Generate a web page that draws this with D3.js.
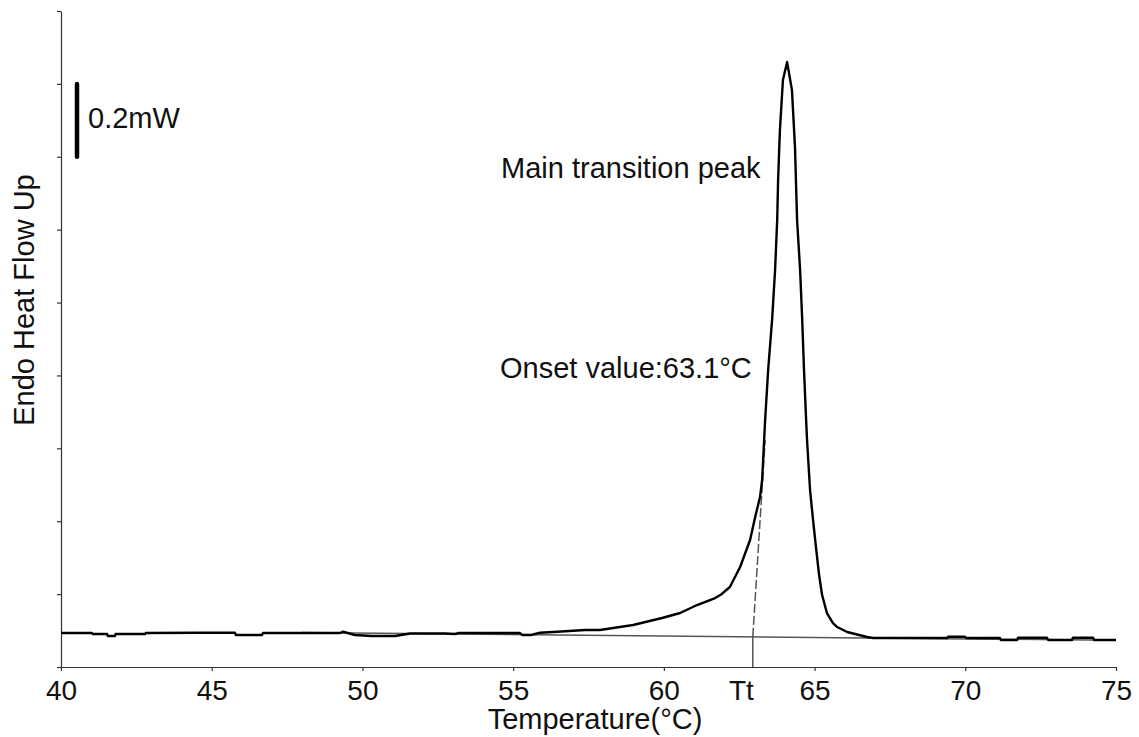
<!DOCTYPE html>
<html lang="en">
<head>
	<meta charset="UTF-8">
	<title>DSC - Main transition peak</title>
	<script src="https://d3js.org/d3.v7.min.js"></script>
	<style>
		body {
			margin: 0;
			background-color: #ffffff;
		}
		text {
			font-family: "Liberation Sans", Arial, sans-serif;
			fill: #111;
		}
		.axis path, .axis line {
			stroke: #333;
			stroke-width: 1.2px;
		}
		.curve {
			fill: none;
			stroke: #000;
			stroke-width: 2.4px;
			stroke-linejoin: round;
		}
		.baseline {
			fill: none;
			stroke: #555;
			stroke-width: 1.5px;
		}
		.tangent {
			stroke: #555;
			stroke-width: 1.5px;
			stroke-dasharray: 9, 3;
		}
	</style>
</head>
<body>

<script type="text/javascript">
	// temperature (°C) and heat flow (mW)
	var temperature = [40, 41.03, 41.05, 41.53, 41.55, 41.79, 41.81, 42.79, 42.81, 44.61, 45.77, 45.8, 46.67, 46.7,
		49.26, 49.36, 49.75, 50.32, 51.08, 51.58, 52.74, 53.07, 53.2, 55.23, 55.3, 55.6, 55.89, 56.46, 57.39, 57.88,
		58.98, 59.94, 60.54, 61.10, 61.70, 61.9, 62.19, 62.53, 62.86, 63.03, 63.19, 63.26, 63.36,
		63.46, 63.59, 63.69, 63.76, 63.79, 63.85, 63.95, 64.09, 64.25, 64.35, 64.42, 64.52, 64.59, 64.65, 64.72,
		64.75, 64.85, 64.95, 65.05, 65.15, 65.25, 65.41, 65.61, 65.75, 66.08, 66.74, 66.94, 67.84, 69.4, 69.43, 69.99, 70.03,
		71.15, 71.18, 71.72, 71.75, 72.71, 72.75, 73.54, 73.57, 74.24, 74.27, 75];
	var heatFlow = [0.0933, 0.0933, 0.0905, 0.0905, 0.085, 0.085, 0.0905, 0.0905, 0.0933, 0.0941, 0.0941, 0.0878, 0.0878, 0.0933,
		0.0933, 0.0968, 0.0878, 0.085, 0.085, 0.0919, 0.0919, 0.0905, 0.0933, 0.0933, 0.0878, 0.0878, 0.0941, 0.0968, 0.1015, 0.1015,
		0.1152, 0.1344, 0.1481, 0.1701, 0.1893, 0.199, 0.2195, 0.2743, 0.3484, 0.4115, 0.4664, 0.513, 0.6776,
		0.8148, 0.952, 1.0892, 1.2263, 1.3361, 1.4733, 1.6104, 1.6598, 1.583, 1.4266, 1.2263, 1.0892, 0.952, 0.8148, 0.6776,
		0.6228, 0.4856, 0.4033, 0.3265, 0.2524, 0.1975, 0.1481, 0.1207, 0.1097, 0.096, 0.0823, 0.0796, 0.0796, 0.0796, 0.0831, 0.0831, 0.0796,
		0.0796, 0.0741, 0.0741, 0.0804, 0.0804, 0.0741, 0.0741, 0.0804, 0.0804, 0.0741, 0.0741];

	// integration baseline and onset tangent
	var baseT = [48, 75];
	var baseV = [0.0945, 0.0732];
	var onsetT = 62.95;
	var tangentT = [62.95, 63.36];
	var tangentV = [0.0827, 0.6228];

	var xTicks = [40, 45, 50, 55, 60, 65, 70, 75];
	var yTicks = [0, 0.2, 0.4, 0.6, 0.8, 1.0, 1.2, 1.4, 1.6, 1.8];
	var scaleBar = [1.4, 1.6];

	var W = 1139, H = 737;
	var margin = {top: 11, bottom: 70, left: 61, right: 23};

	var svg = d3.select('body').append('svg')
		.attr('width', W)
		.attr('height', H);

	var x = d3.scaleLinear()
		.domain([40, 75])
		.range([margin.left, W - margin.right]);
	var y = d3.scaleLinear()
		.domain([0, 1.8])
		.range([H - margin.bottom, margin.top]);

	//----axes----//
	var xAxis = svg.append('g')
		.attr('class', 'axis axis--x')
		.attr('transform', 'translate(0,' + y(0) + ')')
		.call(d3.axisBottom(x).tickValues(xTicks).tickSize(4).tickPadding(9).tickSizeOuter(0));
	xAxis.selectAll('text')
		.style('font-size', '28px')
		.style('fill', '#111');

	svg.append('g')
		.attr('class', 'axis axis--y')
		.attr('transform', 'translate(' + x(40) + ',0)')
		.call(d3.axisLeft(y).tickValues(yTicks).tickSize(4).tickSizeOuter(0).tickFormat(''));

	// Tt label under the onset
	svg.append('text')
		.attr('x', x(onsetT) + 1)
		.attr('y', 700)
		.attr('text-anchor', 'end')
		.style('font-size', '28px')
		.text('Tt');

	svg.append('text')
		.attr('x', 595)
		.attr('y', 729)
		.attr('text-anchor', 'middle')
		.style('font-size', '29px')
		.text('Temperature(°C)');

	svg.append('text')
		.attr('transform', 'translate(34,300) rotate(-90)')
		.attr('text-anchor', 'middle')
		.style('font-size', '29px')
		.text('Endo Heat Flow Up');

	//----baseline, onset lines----//
	var line = d3.line()
		.x(function (d) { return x(d[0]); })
		.y(function (d) { return y(d[1]); });

	svg.append('path')
		.attr('class', 'baseline')
		.attr('d', line(d3.zip(baseT, baseV)));

	svg.append('line')
		.attr('class', 'baseline')
		.attr('x1', x(onsetT)).attr('x2', x(onsetT))
		.attr('y1', y(tangentV[0])).attr('y2', y(0));

	svg.append('line')
		.attr('class', 'tangent')
		.attr('x1', x(tangentT[0])).attr('y1', y(tangentV[0]))
		.attr('x2', x(tangentT[1])).attr('y2', y(tangentV[1]));

	//----curve----//
	svg.append('path')
		.attr('class', 'curve')
		.attr('d', line(d3.zip(temperature, heatFlow)));

	//----scale bar----//
	svg.append('line')
		.attr('x1', 77).attr('x2', 77)
		.attr('y1', y(scaleBar[0])).attr('y2', y(scaleBar[1]))
		.attr('stroke', '#000')
		.attr('stroke-width', 4.5)
		.attr('stroke-linecap', 'round');

	svg.append('text')
		.attr('x', 88)
		.attr('y', 128)
		.style('font-size', '29px')
		.text('0.2mW');

	//----annotations----//
	svg.append('text')
		.attr('x', 501)
		.attr('y', 178)
		.style('font-size', '29px')
		.text('Main transition peak');

	svg.append('text')
		.attr('x', 500)
		.attr('y', 378)
		.style('font-size', '29px')
		.text('Onset value:63.1°C');
</script>

</body>
</html>
